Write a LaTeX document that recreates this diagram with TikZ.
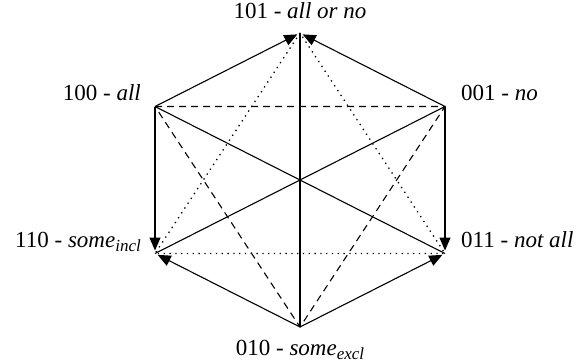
\documentclass[tikz,border=0pt]{standalone}
\usepackage{fontspec}
\setmainfont{Liberation Serif}
\usetikzlibrary{arrows.meta}

% lowered, slightly smaller index
\newcommand{\lowidx}[1]{\raisebox{-4.5pt}{\fontsize{17}{18}\selectfont\textit{#1}}}

\begin{document}
\begin{tikzpicture}[x=1pt, y=-1pt,
    every node/.style={font=\fontsize{23}{27}\selectfont, inner sep=0pt},
    edge/.style={line width=1.1pt},
    arr/.style={edge, -{Triangle[length=13pt, width=11pt]}, shorten >=3pt},
    dashedge/.style={line width=1.1pt, dash pattern=on 7pt off 5pt},
    dotedge/.style={line width=1.3pt, dash pattern=on 1.3pt off 4.5pt}]

    \useasboundingbox (0,0) rectangle (581,362);

    % ---- Parameters ----
    \def\Cx{300}    % centre x
    \def\Cy{180}    % centre y (downwards)
    \def\hx{145}    % half width
    \def\hy{147}    % half height

    % ---- Corners of the hexagon ----
    \coordinate (c101) at (\Cx,\Cy-\hy);
    \coordinate (c100) at (\Cx-\hx,\Cy-\hy/2);
    \coordinate (c001) at (\Cx+\hx,\Cy-\hy/2);
    \coordinate (c110) at (\Cx-\hx,\Cy+\hy/2);
    \coordinate (c011) at (\Cx+\hx,\Cy+\hy/2);
    \coordinate (c010) at (\Cx,\Cy+\hy);

    % ---- Labels ----
    \node[anchor=base] (l101) at (\Cx,18) {101 - \textit{all or no}};
    \node[anchor=base east] (l100) at (141,100) {100 - \textit{all}};
    \node[anchor=base west] (l001) at (461,100) {001 - \textit{no}};
    \node[anchor=base east] (l110) at (141,247)
        {110 - \textit{some}\lowidx{incl}};
    \node[anchor=base west] (l011) at (461,247) {011 - \textit{not all}};
    \node[anchor=base] (l010) at (\Cx,355)
        {010 - \textit{some}\lowidx{excl}};

    % ---- Dotted triangle ----
    \draw[dotedge] (c101) -- (c110) -- (c011) -- cycle;

    % ---- Dashed triangle ----
    \draw[dashedge] (c100) -- (c001) -- (c010) -- cycle;

    % ---- Diagonals through the centre ----
    \draw[edge] (c101) -- (c010);
    \draw[edge] (c100) -- (c011);
    \draw[edge] (c001) -- (c110);

    % ---- Hexagon sides (arrows) ----
    \draw[arr] (c100) -- (c101);
    \draw[arr] (c001) -- (c101);
    \draw[arr] (c100) -- (c110);
    \draw[arr] (c001) -- (c011);
    \draw[arr] (c010) -- (c110);
    \draw[arr] (c010) -- (c011);

\end{tikzpicture}
\end{document}
